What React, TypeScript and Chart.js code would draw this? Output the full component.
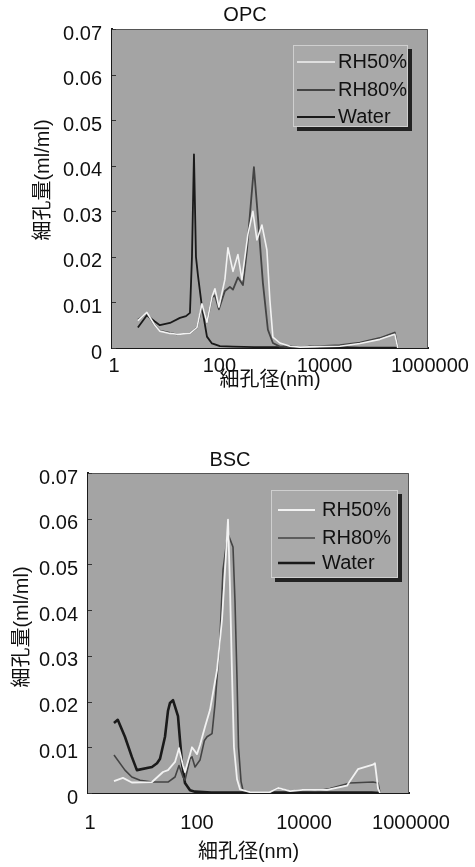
import React, { useEffect, useRef } from "react";
import { Chart, registerables } from "chart.js";

Chart.register(...registerables);

// ---------- data ----------
const X_TICKS = [1, 100, 10000, 1000000];
const Y_TICKS = [0, 0.01, 0.02, 0.03, 0.04, 0.05, 0.06, 0.07];
const SERIES_LABELS = ["RH50%", "RH80%", "Water"];
const X_TITLE = "細孔径(nm)";
const Y_TITLE = "細孔量(ml/ml)";

// OPC
const OPC_RH50_D = [3.1, 4.6, 6.5, 8.1, 12.6, 17.1, 30.2, 41, 51, 63.5, 79, 90, 107, 139, 159, 198, 246, 293, 381, 474, 564, 702, 873, 995, 1135, 1540, 2400, 3700, 8850, 21200, 50800, 122000, 234000, 267000];
const OPC_RH50_V = [0.006, 0.0078, 0.005, 0.0037, 0.0032, 0.003, 0.0032, 0.0045, 0.0097, 0.0056, 0.0112, 0.013, 0.009, 0.015, 0.022, 0.0168, 0.0205, 0.015, 0.025, 0.03, 0.0237, 0.027, 0.0215, 0.0105, 0.0024, 0.0011, 0.0004, 0.0002, 0.0003, 0.0004, 0.001, 0.0019, 0.003, 0];
const OPC_RH80_D = [3.1, 4.6, 6.5, 8.1, 12.6, 17.1, 30.2, 41, 51, 63.5, 79, 90, 107, 139, 173, 198, 246, 306, 365, 495, 589, 733, 912, 1135, 1540, 2400, 3700, 8850, 21200, 50800, 122000, 234000, 267000];
const OPC_RH80_V = [0.0062, 0.0076, 0.005, 0.0038, 0.0033, 0.003, 0.0032, 0.0045, 0.0092, 0.0056, 0.0111, 0.0116, 0.0085, 0.0125, 0.0134, 0.0128, 0.0155, 0.0138, 0.0215, 0.0397, 0.0288, 0.0143, 0.004, 0.0011, 0.0003, 0.0004, 0.0002, 0.0004, 0.0006, 0.0012, 0.0022, 0.0034, 0];
const OPC_WATER_D = [3.1, 4.6, 6.5, 8.1, 12.6, 19.5, 25.4, 30.2, 33, 36, 39.3, 42.8, 51, 63.5, 79, 112, 200, 500, 1000, 1540, 2400, 3700, 5700, 8850, 21200, 50800, 122000, 234000, 267000];
const OPC_WATER_V = [0.0045, 0.0072, 0.0058, 0.005, 0.0055, 0.0066, 0.007, 0.0077, 0.02, 0.0425, 0.02, 0.016, 0.009, 0.0025, 0.001, 0.0004, 0.0003, 0.0002, 0.0002, 0.0002, 0.0003, 0.0001, 0.0003, 0.0002, 0.0002, 0.0001, 0.0001, 0.0001, 0];

// BSC
const BSC_RH50_D = [3.06, 4.5, 6.6, 15.7, 25.2, 31.3, 42.3, 50.2, 59.7, 65, 80.7, 87.9, 109, 124, 154, 191, 258, 320, 364, 414, 451, 492, 535, 610, 694, 1067, 2500, 3560, 5970, 10400, 29300, 69300, 78900, 111000, 212000, 231000, 264000, 287000];
const BSC_RH50_V = [0.0026, 0.0033, 0.0023, 0.0024, 0.0046, 0.005, 0.0068, 0.0098, 0.006, 0.0046, 0.0085, 0.01, 0.0085, 0.0105, 0.0145, 0.0182, 0.0269, 0.038, 0.0488, 0.0598, 0.045, 0.026, 0.01, 0.003, 0.0008, 0.0002, 0.0002, 0.0011, 0.0004, 0.0007, 0.0007, 0.0016, 0.0026, 0.0052, 0.0062, 0.0065, 0.001, 0];
const BSC_RH80_D = [3.06, 4.9, 6.6, 9.4, 15.7, 31.3, 42.3, 50.2, 59.7, 65, 80.7, 87.9, 100, 124, 150, 168, 208, 237, 293, 334, 410, 513, 559, 610, 651, 726, 789, 1067, 2500, 3560, 5970, 10400, 17500, 33400, 78900, 212000, 264000, 287000];
const BSC_RH80_V = [0.0083, 0.005, 0.0035, 0.0028, 0.0024, 0.0024, 0.0035, 0.006, 0.0035, 0.0028, 0.0075, 0.0079, 0.0057, 0.0072, 0.0115, 0.0123, 0.013, 0.0195, 0.034, 0.0488, 0.0568, 0.0538, 0.042, 0.025, 0.01, 0.0025, 0.0006, 0.0002, 0.0002, 0.0011, 0.0004, 0.0007, 0.0004, 0.001, 0.0022, 0.0024, 0.0022, 0];
const BSC_WATER_D = [3.06, 3.6, 4.9, 6.6, 8.2, 15.7, 19.5, 22.2, 27.5, 31.3, 34.1, 38.8, 48.1, 52, 57.1, 65, 80.7, 100, 200, 1000, 3560, 10400, 50000, 200000, 287000];
const BSC_WATER_V = [0.0153, 0.016, 0.0123, 0.0079, 0.005, 0.0057, 0.0065, 0.0075, 0.0123, 0.018, 0.0197, 0.0203, 0.0168, 0.012, 0.0066, 0.0022, 0.0006, 0.0003, 0.0001, 0.0001, 0.0001, 0.0001, 0.0001, 0.0001, 0];

// ---------- helpers ----------
const pts = (d: number[], v: number[]) => d.map((x, i) => ({ x, y: v[i] }));

const FONT = "'Liberation Sans', 'Noto Sans CJK JP', Arial, sans-serif";
const TEXT_COLOR = "#111111";
const PLOT_BG = "#a4a4a4";
const COLORS = ["#f2f2f2", "#444444", "#1a1a1a"];

const plotFramePlugin = {
  id: "plotFrame",
  beforeDatasetsDraw(chart: any) {
    const { ctx, chartArea: a } = chart;
    ctx.save();
    ctx.fillStyle = PLOT_BG;
    ctx.fillRect(a.left, a.top, a.right - a.left, a.bottom - a.top);
    ctx.strokeStyle = "#555555";
    ctx.lineWidth = 1;
    ctx.beginPath();
    ctx.moveTo(a.left, a.top + 0.5);
    ctx.lineTo(a.right - 0.5, a.top + 0.5);
    ctx.lineTo(a.right - 0.5, a.bottom);
    ctx.stroke();
    // inward tick marks on the y axis
    const ys = chart.scales.y;
    ctx.strokeStyle = "#333333";
    ys.ticks.forEach((t: any) => {
      const py = Math.round(ys.getPixelForValue(t.value)) + 0.5;
      ctx.beginPath();
      ctx.moveTo(a.left, py);
      ctx.lineTo(a.left + 4, py);
      ctx.stroke();
    });
    ctx.restore();
  },
};

const boxLegendPlugin = {
  id: "boxLegend",
  afterDraw(chart: any, _args: any, o: any) {
    const { ctx, chartArea: a } = chart;
    const x = a.right - o.right - o.width;
    const y = a.top + o.top;
    ctx.save();
    ctx.fillStyle = "#222222";
    ctx.fillRect(x + o.shadow, y + o.shadow, o.width, o.height);
    ctx.fillStyle = "#a9a9a9";
    ctx.fillRect(x, y, o.width, o.height);
    ctx.strokeStyle = "#cfcfcf";
    ctx.lineWidth = 1;
    ctx.strokeRect(x + 0.5, y + 0.5, o.width - 1, o.height - 1);
    ctx.font = `${o.fontSize}px ${FONT}`;
    ctx.textBaseline = "middle";
    ctx.textAlign = "left";
    chart.data.datasets.forEach((ds: any, i: number) => {
      const ry = y + o.rows[i];
      ctx.strokeStyle = ds.borderColor;
      ctx.lineWidth = ds.borderWidth;
      ctx.beginPath();
      ctx.moveTo(x + o.lineStart, ry);
      ctx.lineTo(x + o.lineEnd, ry);
      ctx.stroke();
      ctx.fillStyle = TEXT_COLOR;
      ctx.fillText(ds.label, x + o.textStart, ry);
    });
    ctx.restore();
  },
};

const textLabelsPlugin = {
  id: "textLabels",
  afterDraw(chart: any, _args: any, o: any) {
    const { ctx } = chart;
    ctx.save();
    ctx.fillStyle = TEXT_COLOR;
    ctx.textAlign = "center";
    ctx.textBaseline = "middle";
    ctx.font = `20px ${FONT}`;
    o.items.forEach((it: any) => {
      ctx.save();
      ctx.translate(it.x, it.y);
      if (it.rotate) ctx.rotate(-Math.PI / 2);
      ctx.fillText(it.text, 0, 0);
      ctx.restore();
    });
    ctx.restore();
  },
};

function makeConfig(p: any) {
  const font = { family: FONT, size: 20 };
  return {
    type: "line",
    data: {
      datasets: [
        { label: SERIES_LABELS[0], data: pts(p.rh50d, p.rh50v), borderColor: COLORS[0], borderWidth: p.widths[0] },
        { label: SERIES_LABELS[1], data: pts(p.rh80d, p.rh80v), borderColor: COLORS[1], borderWidth: p.widths[1] },
        { label: SERIES_LABELS[2], data: pts(p.waterd, p.waterv), borderColor: COLORS[2], borderWidth: p.widths[2] },
      ].map((d) => ({ ...d, pointRadius: 0, fill: false, tension: 0, borderJoinStyle: "round" })),
    },
    options: {
      animation: false,
      responsive: false,
      events: [],
      layout: { padding: p.padding },
      scales: {
        x: {
          type: "logarithmic",
          min: 1,
          max: 1000000,
          afterBuildTicks: (s: any) => {
            s.ticks = X_TICKS.map((v) => ({ value: v }));
          },
          afterFit: (s: any) => {
            s.height = p.xAxisHeight;
          },
          grid: { display: false, drawTicks: false },
          border: { display: true, color: "#1a1a1a", width: 2 },
          ticks: {
            callback: (v: any) => String(v),
            font,
            color: TEXT_COLOR,
            padding: p.xTickPad,
            labelOffset: 2,
            maxRotation: 0,
            autoSkip: false,
          },
          title: { display: true, text: X_TITLE, font, color: TEXT_COLOR, padding: { top: 0, bottom: p.xTitlePad } },
        },
        y: {
          type: "linear",
          min: 0,
          max: 0.07,
          afterBuildTicks: (s: any) => {
            s.ticks = Y_TICKS.map((v) => ({ value: v }));
          },
          afterFit: (s: any) => {
            s.width = p.yAxisWidth;
          },
          grid: { display: false, drawTicks: false },
          border: { display: true, color: "#1a1a1a", width: 2 },
          ticks: {
            callback: (v: any) => (v === 0 ? "0" : Number(v).toFixed(2)),
            font,
            color: TEXT_COLOR,
            padding: 10,
            labelOffset: 5,
            autoSkip: false,
          },
        },
      },
      plugins: {
        legend: { display: false },
        tooltip: { enabled: false },
        boxLegend: p.legend,
        textLabels: { items: p.texts },
      },
    },
    plugins: [plotFramePlugin, boxLegendPlugin, textLabelsPlugin],
  };
}

const OPC_CONFIG = {
  rh50d: OPC_RH50_D, rh50v: OPC_RH50_V,
  rh80d: OPC_RH80_D, rh80v: OPC_RH80_V,
  waterd: OPC_WATER_D, waterv: OPC_WATER_V,
  widths: [1.6, 1.8, 1.8],
  padding: { left: 0, top: 29, right: 47, bottom: 0 },
  yAxisWidth: 112,
  xAxisHeight: 72,
  xTickPad: 6,
  xTitlePad: 28,
  legend: { right: 20, top: 16, width: 115, height: 82, shadow: 4, rows: [17, 45, 72], lineStart: 4, lineEnd: 42, textStart: 45, fontSize: 20 },
  texts: [
    { text: "OPC", x: 245, y: 15 },
    { text: Y_TITLE, x: 43, y: 180, rotate: true },
  ],
};

const BSC_CONFIG = {
  rh50d: BSC_RH50_D, rh50v: BSC_RH50_V,
  rh80d: BSC_RH80_D, rh80v: BSC_RH80_V,
  waterd: BSC_WATER_D, waterv: BSC_WATER_V,
  widths: [1.8, 1.6, 2.6],
  padding: { left: 0, top: 53, right: 66, bottom: 0 },
  yAxisWidth: 88,
  xAxisHeight: 74,
  xTickPad: 18,
  xTitlePad: 3,
  legend: { right: 11, top: 17, width: 127, height: 88, shadow: 4, rows: [20, 48, 73], lineStart: 7, lineEnd: 44, textStart: 51, fontSize: 20 },
  texts: [
    { text: "BSC", x: 230, y: 40 },
    { text: Y_TITLE, x: 22, y: 207, rotate: true },
  ],
};

function PoreChart({ cfg, top, width, height }: any) {
  const ref = useRef<HTMLCanvasElement>(null);
  useEffect(() => {
    const chart = new Chart(ref.current as HTMLCanvasElement, makeConfig(cfg) as any);
    return () => chart.destroy();
  }, [cfg]);
  return (
    <div style={{ position: "absolute", left: 0, top, width, height }}>
      <canvas ref={ref} width={width} height={height} style={{ width, height, display: "block" }} />
    </div>
  );
}

export default function App() {
  return (
    <div style={{ position: "absolute", left: 0, top: 0, width: 475, height: 867, background: "#ffffff", overflow: "hidden" }}>
      <PoreChart cfg={OPC_CONFIG} top={0} width={475} height={420} />
      <PoreChart cfg={BSC_CONFIG} top={420} width={475} height={447} />
    </div>
  );
}
